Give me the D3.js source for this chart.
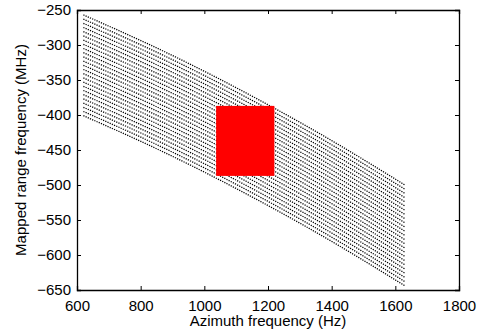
<!DOCTYPE html>
<html>
<head>
<meta charset="utf-8">
<script src="https://cdn.jsdelivr.net/npm/d3@7"></script>
<style>
  body { margin: 0; background: #fff; }
  svg { display: block; }
  text { font-family: "Liberation Sans", Arial, Helvetica, sans-serif; }
</style>
</head>
<body>
<svg id="chart" width="477" height="335"></svg>
<script>
// azimuth sample positions (Hz)
const azimuth = [620, 820, 1020, 1220, 1420, 1630];

// mapped range frequency (MHz) for each dotted curve, top to bottom
const curves = [
    [-257, -297.8, -342.2, -390.3, -441.9, -500],
    [-263, -303.8, -348.2, -396.3, -447.9, -506],
    [-269, -309.8, -354.2, -402.3, -453.9, -512],
    [-275, -315.8, -360.2, -408.3, -459.9, -518],
    [-281, -321.8, -366.2, -414.3, -465.9, -524],
    [-287, -327.8, -372.2, -420.3, -471.9, -530],
    [-293, -333.8, -378.2, -426.3, -477.9, -536],
    [-299, -339.8, -384.2, -432.3, -483.9, -542],
    [-305, -345.8, -390.2, -438.3, -489.9, -548],
    [-311, -351.8, -396.2, -444.3, -495.9, -554],
    [-317, -357.8, -402.2, -450.3, -501.9, -560],
    [-323, -363.8, -408.2, -456.3, -507.9, -566],
    [-329, -369.8, -414.2, -462.3, -513.9, -572],
    [-335, -375.8, -420.2, -468.3, -519.9, -578],
    [-341, -381.8, -426.2, -474.3, -525.9, -584],
    [-347, -387.8, -432.2, -480.3, -531.9, -590],
    [-353, -393.8, -438.2, -486.3, -537.9, -596],
    [-359, -399.8, -444.2, -492.3, -543.9, -602],
    [-365, -405.8, -450.2, -498.3, -549.9, -608],
    [-371, -411.8, -456.2, -504.3, -555.9, -614],
    [-377, -417.8, -462.2, -510.3, -561.9, -620],
    [-383, -423.8, -468.2, -516.3, -567.9, -626],
    [-389, -429.8, -474.2, -522.3, -573.9, -632],
    [-395, -435.8, -480.2, -528.3, -579.9, -638],
    [-401, -441.8, -486.2, -534.3, -585.9, -644]
];

// highlighted block
const blockX = [1037, 1220];
const blockY = [-487, -387];

const xTicks = [600, 800, 1000, 1200, 1400, 1600, 1800];
const yTicks = [-650, -600, -550, -500, -450, -400, -350, -300, -250];

const svg = d3.select('#chart');
const margin = { top: 10, right: 18, bottom: 45, left: 77 };
const width = 477 - margin.left - margin.right;
const height = 335 - margin.top - margin.bottom;

const g = svg.append('g')
    .attr('transform', `translate(${margin.left},${margin.top})`);

const xScale = d3.scaleLinear().domain([600, 1800]).range([0, width]);
const yScale = d3.scaleLinear().domain([-650, -250]).range([height, 0]);

const line = d3.line()
    .x((d, i) => xScale(azimuth[i]))
    .y(d => yScale(d))
    .curve(d3.curveNatural);

g.selectAll('.curve')
    .data(curves)
    .enter()
    .append('path')
    .attr('class', 'curve')
    .attr('d', line)
    .style('fill', 'none')
    .style('stroke', '#000')
    .style('stroke-width', 1.3)
    .style('stroke-dasharray', '1.2,1.2');

g.append('rect')
    .attr('x', xScale(blockX[0]))
    .attr('y', yScale(blockY[1]))
    .attr('width', xScale(blockX[1]) - xScale(blockX[0]))
    .attr('height', yScale(blockY[0]) - yScale(blockY[1]))
    .style('fill', '#ff0000');

// axes, ticks pointing inward like the original
const fmt = d3.format('d');
const xAxis = g.append('g')
    .attr('transform', `translate(0,${height})`)
    .call(d3.axisBottom(xScale).tickValues(xTicks).tickSize(-4).tickPadding(10).tickFormat(fmt));
const xTop = g.append('g')
    .call(d3.axisTop(xScale).tickValues(xTicks).tickSize(-4).tickFormat(''));
const yAxis = g.append('g')
    .call(d3.axisLeft(yScale).tickValues(yTicks).tickSize(-4).tickPadding(6).tickFormat(fmt));
const yRight = g.append('g')
    .attr('transform', `translate(${width},0)`)
    .call(d3.axisRight(yScale).tickValues(yTicks).tickSize(-4).tickFormat(''));

[xAxis, xTop, yAxis, yRight].forEach(a => {
    a.select('.domain').attr('stroke', '#000').attr('stroke-width', 1.3);
    a.selectAll('.tick line').attr('stroke', '#000');
    a.selectAll('text')
        .style('font-size', '15px')
        .style('fill', '#000');
});

svg.append('text')
    .attr('x', margin.left + width / 2)
    .attr('y', 326)
    .attr('text-anchor', 'middle')
    .style('font-size', '15px')
    .text('Azimuth frequency (Hz)');

svg.append('text')
    .attr('transform', `translate(26,${margin.top + height / 2}) rotate(-90)`)
    .attr('text-anchor', 'middle')
    .style('font-size', '15px')
    .text('Mapped range frequency (MHz)');
</script>
</body>
</html>
